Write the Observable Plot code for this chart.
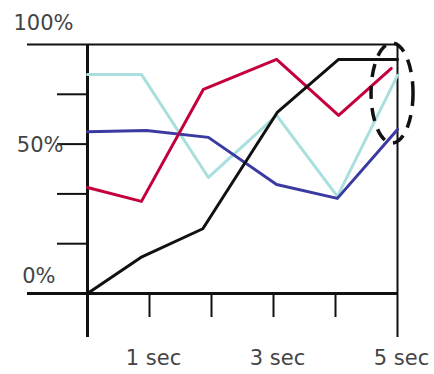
<!DOCTYPE html>
<html><head><meta charset="utf-8">
<script src="https://cdn.jsdelivr.net/npm/d3@7"></script>
<script src="https://cdn.jsdelivr.net/npm/@observablehq/plot@0.6"></script>
<style>html,body{margin:0;padding:0;background:#fff;}</style>
</head><body><div id="chart"></div>
<script>
// time (sec) and value (%) per series
const blackT = [0, 0.86, 1.86, 3.06, 4.05, 5];
const blackV = [0, 14.5, 26, 72.7, 94, 94];
const redT = [0, 0.87, 1.87, 3.05, 4.05, 4.9];
const redV = [42.6, 37, 82, 94, 71.5, 90.4];
const cyanT = [0, 0.87, 1.95, 3.05, 4.03, 5];
const cyanV = [88, 88, 46.6, 71.5, 39, 87.6];
const blueT = [0, 0.95, 1.95, 3.05, 4.03, 5];
const blueV = [65, 65.5, 62.7, 43.8, 38.2, 65.9];
const xTicks = [1, 2, 3, 4];
const xStart = [0], xEnd = [5];
const xLabelValues = [1, 3, 5];
const xLabels = ["1 sec", "3 sec", "5 sec"];
const yTicks = [20, 40, 60, 80];
const yBottom = [0], yTop = [100];
const yLabelValues = [0, 60, 100];
const yLabels = ["0%", "50%", "100%"];
const highlight = {t: 4.92, v: 80.3};

const pts = (T, V) => T.map((t, i) => ({t, v: V[i]}));
const font = {fontFamily: "DejaVu Sans, Verdana, sans-serif", fontSize: 21, fill: "#444"};
const ylab = (i, dx, dy) => Plot.text([{v: yLabelValues[i], s: yLabels[i]}],
  {x: 0, y: "v", text: "s", textAnchor: "end", dx, dy, ...font});

const plot = Plot.plot({
  width: 434, height: 374,
  marginLeft: 87, marginRight: 37, marginTop: 44, marginBottom: 81,
  x: {domain: [0, 5], axis: null},
  y: {domain: [0, 100], axis: null},
  style: {background: "#fff", overflow: "visible"},
  marks: [
    Plot.ruleY(yTop, {insetLeft: -60, stroke: "#111", strokeWidth: 2}),
    Plot.ruleY(yBottom, {insetLeft: -60, stroke: "#111", strokeWidth: 3}),
    Plot.ruleY(yTicks, {x1: 0, x2: 0, insetLeft: -30, stroke: "#111", strokeWidth: 2}),
    Plot.ruleX(xStart, {insetBottom: -44, stroke: "#111", strokeWidth: 3}),
    Plot.ruleX(xEnd, {insetBottom: -44, stroke: "#111", strokeWidth: 2}),
    Plot.ruleX(xTicks, {y1: 0, y2: 0, insetBottom: -24, stroke: "#111", strokeWidth: 2}),
    Plot.line(pts(cyanT, cyanV), {x: "t", y: "v", stroke: "#a9dfde", strokeWidth: 3}),
    Plot.line(pts(blueT, blueV), {x: "t", y: "v", stroke: "#3a3aa2", strokeWidth: 3}),
    Plot.line(pts(redT, redV), {x: "t", y: "v", stroke: "#c3003b", strokeWidth: 3}),
    Plot.line(pts(blackT, blackV), {x: "t", y: "v", stroke: "#111", strokeWidth: 3}),
    Plot.text(xLabelValues.map((t, i) => ({t, s: xLabels[i]})),
      {x: "t", y: 0, text: "s", dx: 4, dy: 65, ...font}),
    ylab(0, -32, -17),
    ylab(1, -24, 1),
    ylab(2, -14, -21)
  ]
});
document.getElementById("chart").appendChild(plot);
const sx = plot.scale("x"), sy = plot.scale("y");
const fx = d3.scaleLinear(sx.domain, sx.range), fy = d3.scaleLinear(sy.domain, sy.range);
d3.select(plot).append("ellipse")
  .attr("cx", fx(highlight.t)).attr("cy", fy(highlight.v))
  .attr("rx", 21).attr("ry", 50)
  .attr("fill", "none").attr("stroke", "#111").attr("stroke-width", 3.5)
  .attr("stroke-dasharray", "13 9");
</script></body></html>
